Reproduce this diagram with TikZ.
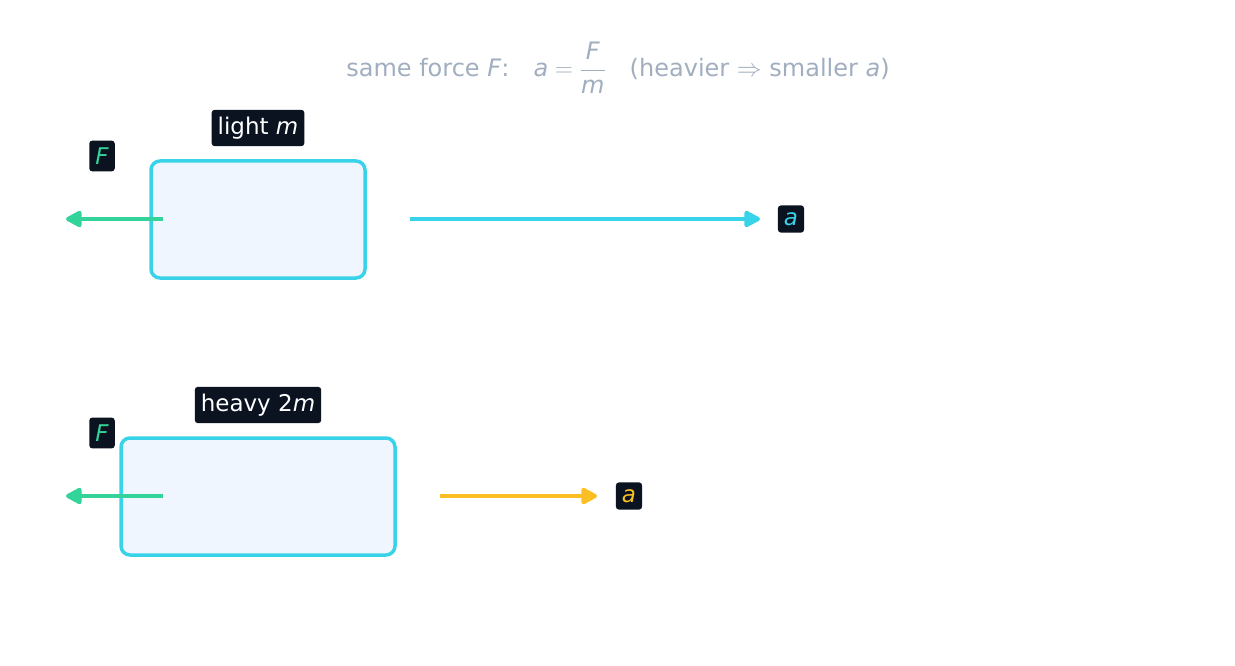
\documentclass[tikz,border=0pt]{standalone}
\usepackage{fontspec}
\setmainfont{DejaVu Sans}
\usetikzlibrary{arrows.meta}
\definecolor{cyanline}{HTML}{38D3E8}
\definecolor{greenline}{HTML}{34D399}
\definecolor{yellowline}{HTML}{FBBF24}
\definecolor{darkbg}{HTML}{0B1220}
\definecolor{boxfill}{HTML}{EFF6FF}
\definecolor{titlegray}{HTML}{A0AEC0}
\tikzset{
  block/.style={draw=cyanline, fill=boxfill, line width=3.5pt, rounded corners=9pt},
  tag/.style={fill=darkbg, rounded corners=3pt, inner xsep=6pt, inner ysep=7pt, font=\fontsize{23}{25}\selectfont},
  vec/.style={line width=4pt, -{Triangle[length=18pt,width=18pt,round]}},
}
\begin{document}
\begin{tikzpicture}[x=1pt,y=-1pt]
    \useasboundingbox (0,0) rectangle (1235,666);

    \node[text=titlegray, font=\fontsize{24}{26}\selectfont] (title) at (618,68)
      {same force \textit{F}:\quad $\mbox{\textit{a}} = \displaystyle\frac{\mbox{\textit{F}}}{\mbox{\textit{m}}}$\quad (heavier $\Rightarrow$ smaller \textit{a})};

    % light body
    \draw[block] (151,161) rectangle (365,278);
    \node[tag, text=white] (lightlbl) at (258,128) {light \textit{m}};
    \node[tag, text=greenline] (F1) at (102,156) {\textit{F}};
    \node[tag, text=cyanline] (a1) at (791,219) {\textit{a}};
    \coordinate (f1s) at (163,219);
    \coordinate (f1e) at (66,219);
    \coordinate (a1s) at (410,219);
    \coordinate (a1e) at (760,219);
    \draw[vec, greenline] (f1s) -- (f1e);
    \draw[vec, cyanline] (a1s) -- (a1e);

    % heavy body
    \draw[block] (121,438) rectangle (395,555);
    \node[tag, text=white] (heavylbl) at (258,405) {heavy 2\textit{m}};
    \node[tag, text=greenline] (F2) at (102,433) {\textit{F}};
    \node[tag, text=yellowline] (a2) at (629,496) {\textit{a}};
    \coordinate (f2s) at (163,496);
    \coordinate (f2e) at (66,496);
    \coordinate (a2s) at (440,496);
    \coordinate (a2e) at (597,496);
    \draw[vec, greenline] (f2s) -- (f2e);
    \draw[vec, yellowline] (a2s) -- (a2e);
\end{tikzpicture}
\end{document}
